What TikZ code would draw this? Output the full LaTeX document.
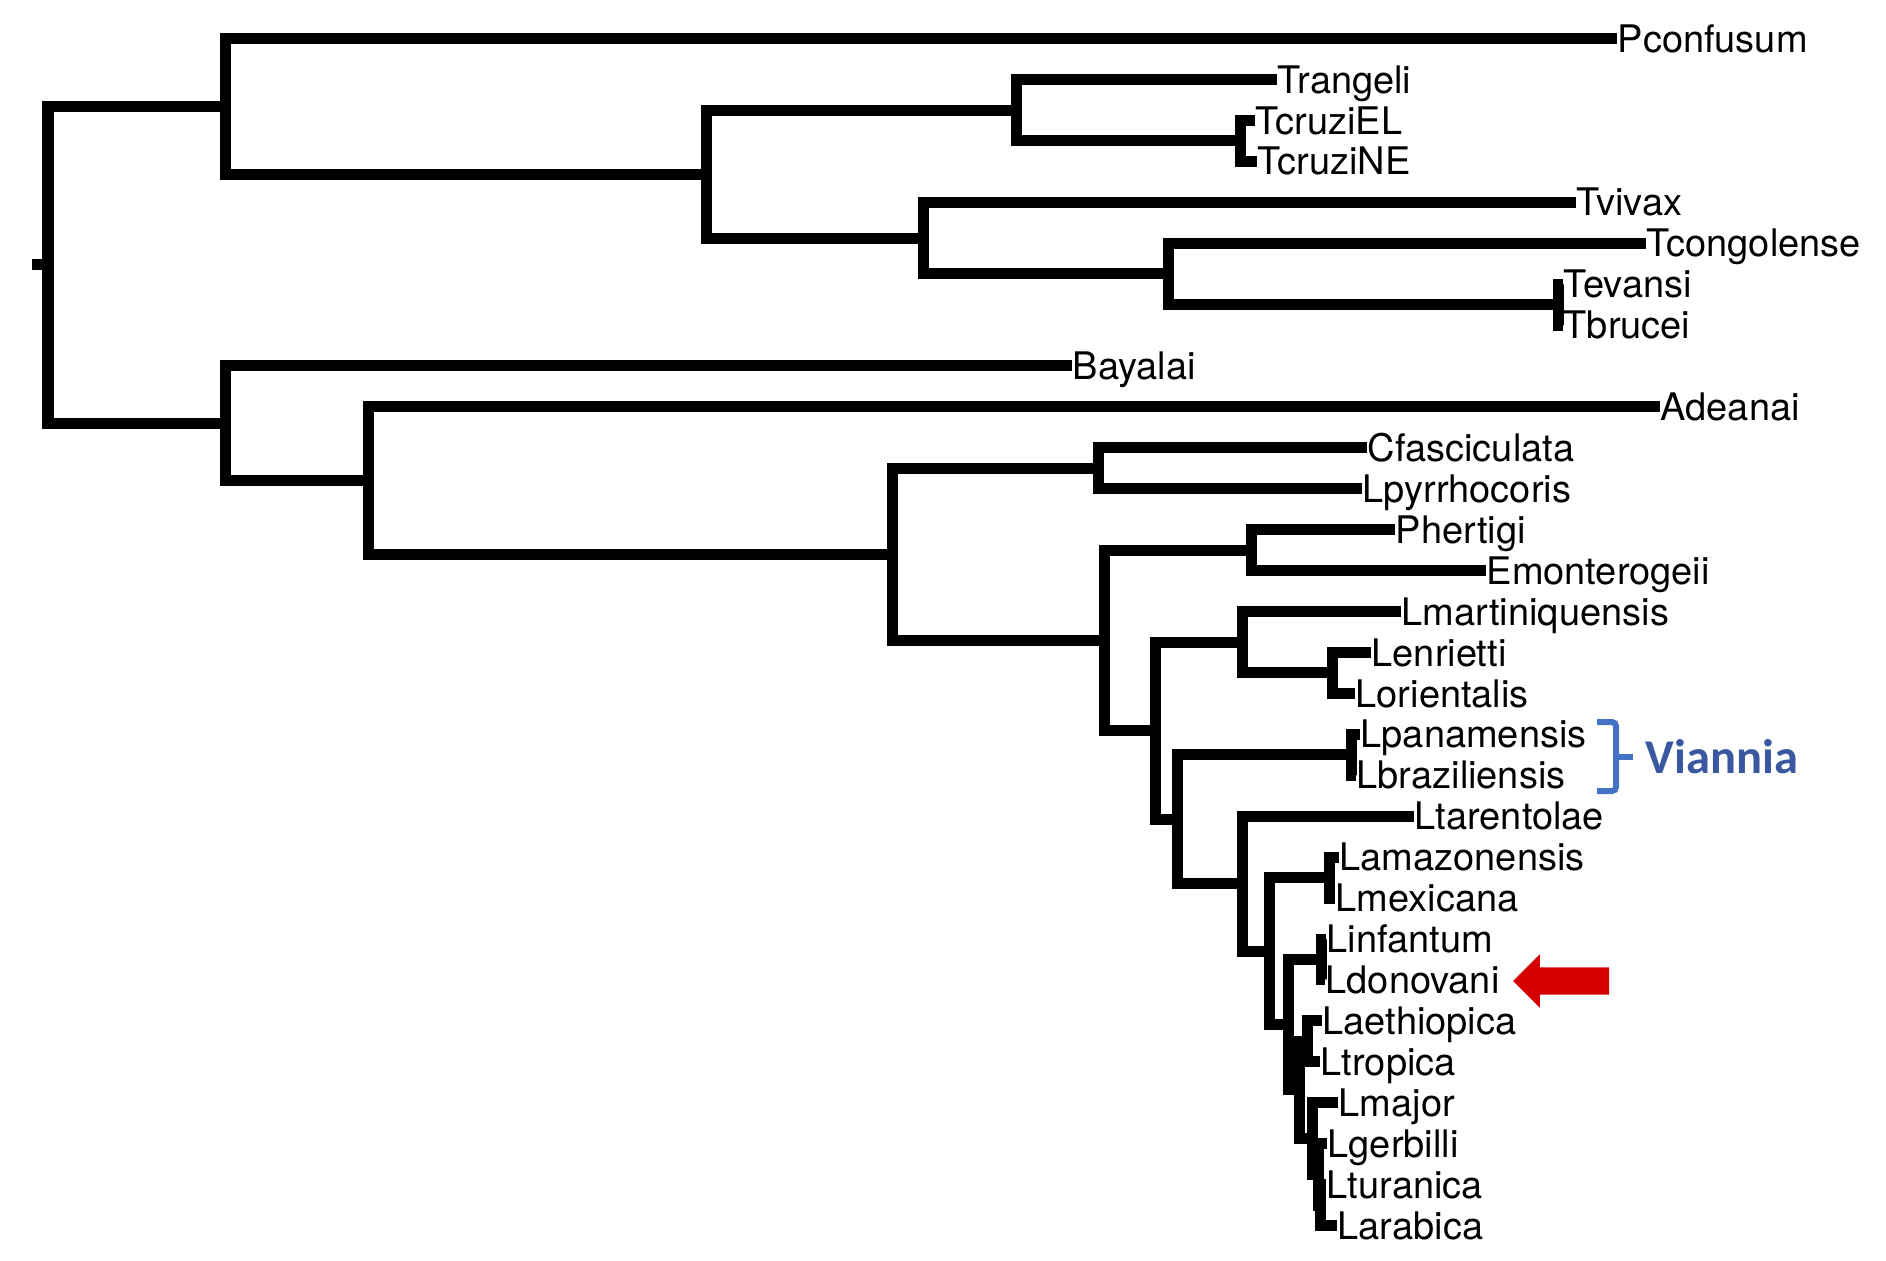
\documentclass[tikz,border=0pt]{standalone}
\usepackage{fontspec}
\setmainfont{TeX Gyre Heros}
\newfontfamily\viafont{Carlito}
\usetikzlibrary{shapes.arrows}
\definecolor{vianblue}{RGB}{68,114,196}
\definecolor{viantext}{RGB}{58,88,160}
\definecolor{arrowred}{RGB}{214,0,0}
\newcommand{\leaffont}{\fontsize{10.8pt}{13pt}\selectfont}

\begin{document}
\begin{tikzpicture}[x=0.01cm, y=-0.01cm,
  br/.style={line width=1.1mm},
  sp/.style={anchor=west, inner sep=0pt, text height=7.75pt, text depth=0pt, font=\leaffont}]
\useasboundingbox (0,0) rectangle (1886,1260);

\coordinate (stub) at (32,264.8);
\coordinate (root) at (48,264.8);
\coordinate (A) at (225,106.3);
\coordinate (B) at (706,174.1);
\coordinate (C) at (1016,110.1);
\coordinate (Cc) at (1240,140.9);
\coordinate (D) at (923,238.0);
\coordinate (E) at (1168,273.9);
\coordinate (F) at (1558,304.6);
\coordinate (G) at (225,423.3);
\coordinate (H) at (368,480.6);
\coordinate (I) at (892,554.3);
\coordinate (J) at (1098,468.3);
\coordinate (K) at (1104,640.4);
\coordinate (L) at (1251,550.1);
\coordinate (M) at (1155,730.7);
\coordinate (N) at (1242,642.2);
\coordinate (P) at (1332,672.9);
\coordinate (O) at (1177,819.2);
\coordinate (Q) at (1351,754.8);
\coordinate (R) at (1242,883.7);
\coordinate (S) at (1269,951.1);
\coordinate (T) at (1329,877.6);
\coordinate (U) at (1288,1024.7);
\coordinate (V) at (1321,959.4);
\coordinate (W) at (1299,1089.9);
\coordinate (X) at (1307,1041.3);
\coordinate (Y) at (1312,1138.5);
\coordinate (Z) at (1318,1174.3);
\coordinate (ZZ) at (1320,1205.0);

\node[sp] (Pconfusum) at (1617,38.5) {Pconfusum};
\node[sp] (Trangeli) at (1277,79.4) {Trangeli};
\node[sp] (TcruziEL) at (1255,120.4) {TcruziEL};
\node[sp] (TcruziNE) at (1257,161.3) {TcruziNE};
\node[sp] (Tvivax) at (1576,202.2) {Tvivax};
\node[sp] (Tcongolense) at (1646,243.2) {Tcongolense};
\node[sp] (Tevansi) at (1563,284.1) {Tevansi};
\node[sp] (Tbrucei) at (1563,325.0) {Tbrucei};
\node[sp] (Bayalai) at (1072,365.9) {Bayalai};
\node[sp] (Adeanai) at (1660,406.9) {Adeanai};
\node[sp] (Cfasciculata) at (1367,447.8) {Cfasciculata};
\node[sp] (Lpyrrhocoris) at (1362,488.7) {Lpyrrhocoris};
\node[sp] (Phertigi) at (1395,529.7) {Phertigi};
\node[sp] (Emonterogeii) at (1486,570.6) {Emonterogeii};
\node[sp] (Lmartiniquensis) at (1401,611.5) {Lmartiniquensis};
\node[sp] (Lenrietti) at (1371,652.5) {Lenrietti};
\node[sp] (Lorientalis) at (1355,693.4) {Lorientalis};
\node[sp] (Lpanamensis) at (1360,734.3) {Lpanamensis};
\node[sp] (Lbraziliensis) at (1356,775.2) {Lbraziliensis};
\node[sp] (Ltarentolae) at (1414,816.2) {Ltarentolae};
\node[sp] (Lamazonensis) at (1339,857.1) {Lamazonensis};
\node[sp] (Lmexicana) at (1335,898.0) {Lmexicana};
\node[sp] (Linfantum) at (1326,939.0) {Linfantum};
\node[sp] (Ldonovani) at (1325,979.9) {Ldonovani};
\node[sp] (Laethiopica) at (1322,1020.8) {Laethiopica};
\node[sp] (Ltropica) at (1320,1061.8) {Ltropica};
\node[sp] (Lmajor) at (1338,1102.7) {Lmajor};
\node[sp] (Lgerbilli) at (1327,1143.6) {Lgerbilli};
\node[sp] (Lturanica) at (1326,1184.6) {Lturanica};
\node[sp] (Larabica) at (1337,1225.5) {Larabica};

\draw[br] (stub) -- (root);
\foreach \p/\c in {root/A, root/G, A/Pconfusum, A/B, B/C, B/D, C/Trangeli, C/Cc,
    Cc/TcruziEL, Cc/TcruziNE, D/Tvivax, D/E, E/Tcongolense, E/F, F/Tevansi, F/Tbrucei,
    G/Bayalai, G/H, H/Adeanai, H/I, I/J, I/K, J/Cfasciculata, J/Lpyrrhocoris,
    K/L, K/M, L/Phertigi, L/Emonterogeii, M/N, M/O, N/Lmartiniquensis, N/P,
    P/Lenrietti, P/Lorientalis, O/Q, O/R, Q/Lpanamensis, Q/Lbraziliensis,
    R/Ltarentolae, R/S, S/T, S/U, T/Lamazonensis, T/Lmexicana, U/V, U/W,
    V/Linfantum, V/Ldonovani, W/X, W/Y, X/Laethiopica, X/Ltropica,
    Y/Lmajor, Y/Z, Z/Lgerbilli, Z/ZZ, ZZ/Lturanica, ZZ/Larabica}
  \draw[br] (\p) |- (\c);

\draw[vianblue, line width=0.6mm, rounded corners=0.4mm] (1597,722) -- (1616,722) -- (1616,791) -- (1597,791);
\draw[vianblue, line width=0.6mm] (1616,756.5) -- (1633,756.5);
\node[anchor=west, inner sep=0pt, text=viantext, font={\viafont\fontsize{13.8pt}{16pt}\selectfont\bfseries}] (viannia) at (1645,756.5) {Viannia};

\node[single arrow, fill=arrowred, shape border rotate=180, minimum height=9.6mm, minimum width=5.2mm,
  inner sep=1.3mm, single arrow head extend=1.3mm, single arrow tip angle=90] (pointer) at (1568,981) {};
\end{tikzpicture}
\end{document}
